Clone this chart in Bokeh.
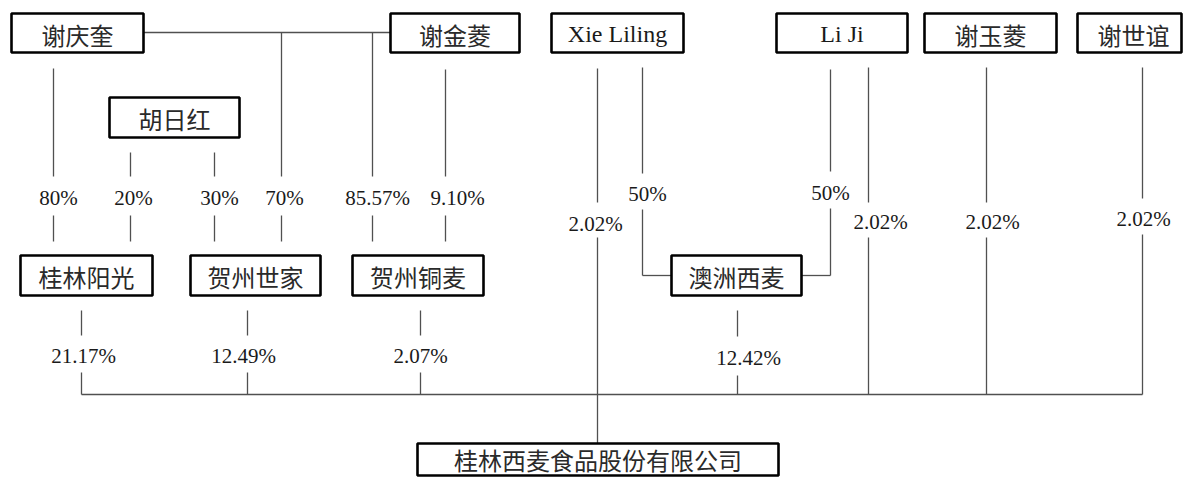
from bokeh.plotting import figure
from bokeh.models import Range1d
from bokeh.core.properties import value
from bokeh.embed import file_html
from bokeh.resources import INLINE

# ---------------- data ----------------
top_holders = ["谢庆奎", "谢金菱", "Xie Liling", "Li Ji", "谢玉菱", "谢世谊"]
mid_holders = ["胡日红"]
subsidiaries = ["桂林阳光", "贺州世家", "贺州铜麦", "澳洲西麦"]
company = ["桂林西麦食品股份有限公司"]

# upper-level stakes (holder -> intermediate)
upper_labels = ["80%", "20%", "30%", "70%", "85.57%", "9.10%", "50%", "50%"]
# direct stakes in the company: Xie Liling, Li Ji, 谢玉菱, 谢世谊
direct_labels = ["2.02%", "2.02%", "2.02%", "2.02%"]
# intermediate stakes in the company: 桂林阳光, 贺州世家, 贺州铜麦, 澳洲西麦
sub_labels = ["21.17%", "12.49%", "2.07%", "12.42%"]

# ---------------- layout (pixel positions) ----------------
top_box_x0 = [11, 390, 551, 776, 924, 1077]
top_box_x1 = [143, 519, 683, 907, 1056, 1181]
top_box_y = (13, 52)
mid_box = (109, 239, 97, 137)
sub_box_x0 = [20, 190, 352, 671]
sub_box_x1 = [152, 320, 483, 801]
sub_box_y = (255, 295)
comp_box = (417, 778, 443, 475)

upper_lx = [58, 133, 219, 284, 377, 457, 647, 830]
upper_ly = [197, 197, 197, 197, 197, 197, 193, 192]
direct_lx = [595, 880, 992, 1143]
direct_ly = [223, 221, 221, 218]
sub_lx = [83, 243, 420, 748]
sub_ly = [355, 355, 355, 357]

LINE = "#505050"
CJK = "Noto Sans CJK SC"
SERIF = "Liberation Serif"

p = figure(width=1183, height=479, x_range=Range1d(0, 1183), y_range=Range1d(479, 0),
           output_backend="svg", toolbar_location=None, min_border=0)
p.axis.visible = False
p.grid.visible = False
p.outline_line_color = None
p.background_fill_color = "white"
p.border_fill_color = "white"

# ---------------- connector lines ----------------
segs = [
    (143, 32, 390, 32),
    (53, 68, 53, 176), (53, 215, 53, 241),
    (130, 152, 130, 176), (130, 215, 130, 241),
    (214, 152, 214, 176), (214, 215, 214, 241),
    (281, 32, 281, 176), (281, 215, 281, 241),
    (372, 32, 372, 176), (372, 215, 372, 241),
    (445, 69, 445, 176), (445, 215, 445, 241),
    (597, 68, 597, 202), (597, 237, 597, comp_box[2]),
    (642, 67, 642, 173), (642, 209, 642, 275), (642, 275, 671, 275),
    (830, 69, 830, 171), (830, 208, 830, 275), (801, 275, 830, 275),
    (868, 67, 868, 202), (868, 237, 868, 394),
    (986, 67, 986, 202), (986, 237, 986, 394),
    (1142, 67, 1142, 198), (1142, 234, 1142, 394),
    (81, 310, 81, 335), (81, 372, 81, 394),
    (247, 310, 247, 335), (247, 372, 247, 394),
    (420, 310, 420, 335), (420, 372, 420, 394),
    (737, 310, 737, 336), (737, 375, 737, 394),
    (81, 394, 1142, 394),
]
p.segment(x0=[s[0] for s in segs], y0=[s[1] for s in segs],
          x1=[s[2] for s in segs], y1=[s[3] for s in segs],
          line_color=LINE, line_width=1.3)

# ---------------- boxes ----------------
bx0 = top_box_x0 + [mid_box[0]] + sub_box_x0 + [comp_box[0]]
bx1 = top_box_x1 + [mid_box[1]] + sub_box_x1 + [comp_box[1]]
by0 = [top_box_y[0]] * 6 + [mid_box[2]] + [sub_box_y[0]] * 4 + [comp_box[2]]
by1 = [top_box_y[1]] * 6 + [mid_box[3]] + [sub_box_y[1]] * 4 + [comp_box[3]]
p.quad(left=bx0, right=bx1, top=by0, bottom=by1,
       fill_color="white", line_color="black", line_width=2.6)

names = top_holders + mid_holders + subsidiaries + company
cx = [(a + b) / 2 for a, b in zip(bx0, bx1)]
cy = [(a + b) / 2 + 1 for a, b in zip(by0, by1)]
cx[5] = 1133
cy[-1] = 459
cjk_idx = [i for i, n in enumerate(names) if not n.isascii()]
lat_idx = [i for i, n in enumerate(names) if n.isascii()]

p.text(x=[cx[i] for i in cjk_idx], y=[cy[i] for i in cjk_idx], text=[names[i] for i in cjk_idx],
       text_font=value(CJK), text_font_size="24px", text_color="#2a2a2a",
       text_align="center", text_baseline="middle")
p.text(x=[cx[i] for i in lat_idx], y=[cy[i] for i in lat_idx], text=[names[i] for i in lat_idx],
       text_font=value(SERIF), text_font_size="24px", text_color="#1a1a1a",
       text_align="center", text_baseline="middle")

# ---------------- percentage labels ----------------
p.text(x=upper_lx + direct_lx + sub_lx, y=upper_ly + direct_ly + sub_ly,
       text=upper_labels + direct_labels + sub_labels,
       text_font=value(SERIF), text_font_size="21px", text_color="#1a1a1a",
       text_align="center", text_baseline="middle")

open("out.html", "w").write(file_html(p, INLINE))
